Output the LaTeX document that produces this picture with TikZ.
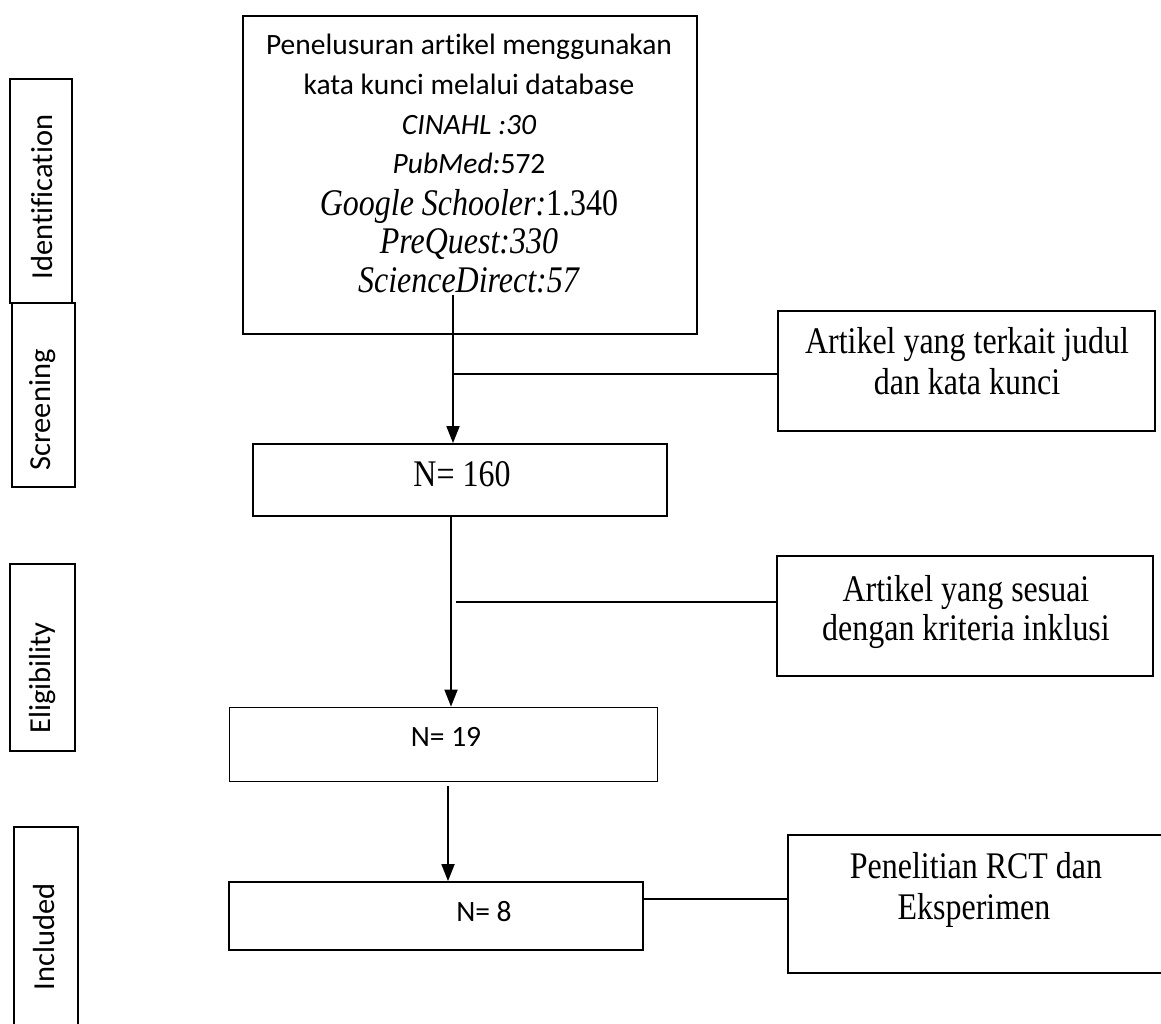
\documentclass[tikz,border=0pt]{standalone}
\usepackage{fontspec}
\setmainfont{Carlito}[Ligatures=NoCommon]
\newfontfamily\lblfont{Carlito}[Ligatures=NoCommon]
\newfontfamily\tnr{Liberation Serif}[FakeStretch=0.85]
\usetikzlibrary{arrows.meta,calc}
\begin{document}
\begin{tikzpicture}[x=1pt,y=-1pt,
  frame/.style={draw, line width=1.8pt, inner sep=0pt},
  sanstxt/.style={font=\fontsize{29.5}{35}\selectfont, inner sep=0pt, anchor=base},
  sertxt/.style={font=\tnr\fontsize{37.6}{42}\selectfont, inner sep=0pt, anchor=base},
  lbl/.style={font=\lblfont\fontsize{30.5}{36}\selectfont, rotate=90, inner sep=0pt},
  conn/.style={line width=1.8pt},
  arr/.style={conn, -{Triangle[width=13pt,length=17pt]}}]
\useasboundingbox (0,0) rectangle (1161,1023);

% stage labels
\node[frame, minimum width=62pt, minimum height=224pt] (idbox) at (41,191) {};
\node[lbl] (idtxt) at (42,197) {Identification};
\node[frame, minimum width=63pt, minimum height=184pt] (scbox) at (43.5,395) {};
\node[lbl] (sctxt) at (43,410) {Screening};
\node[frame, minimum width=65pt, minimum height=187pt] (elbox) at (42.5,657.5) {};
\node[lbl] (eltxt) at (43,678) {Eligibility};
\node[frame, minimum width=64pt, minimum height=210pt] (inbox) at (46,932) {};
\node[lbl] (intxt) at (44,937) {Included};

% main search box
\node[frame, minimum width=454pt, minimum height=318pt] (top) at (470,175) {};
\node[sanstxt] (t1) at (469,54) {Penelusuran artikel menggunakan};
\node[sanstxt] (t2) at (469,94) {kata kunci melalui database};
\node[sanstxt] (t3) at (469,134) {\itshape CINAHL :30};
\node[sanstxt] (t4) at (469,173) {\textit{PubMed:}572};
\node[sertxt] (t5) at (469,215) {\textit{Google Schooler:}1.340};
\node[sertxt] (t6) at (469,253) {\textit{PreQuest:330}};
\node[sertxt] (t7) at (469,292) {\textit{ScienceDirect:57}};

% side boxes
\node[frame, minimum width=377pt, minimum height=120pt] (sb1) at (966.5,371) {};
\node[sertxt] (sb1a) at (967,353) {Artikel yang terkait judul};
\node[sertxt] (sb1b) at (967,394) {dan kata kunci};

\node[frame, minimum width=376pt, minimum height=120pt] (sb2) at (965,616) {};
\node[sertxt] (sb2a) at (966,601) {Artikel yang sesuai};
\node[sertxt] (sb2b) at (966,640) {dengan kriteria inklusi};

\node[frame, minimum width=380pt, minimum height=138pt] (sb3) at (978,904) {};
\node[sertxt] (sb3a) at (976,878) {Penelitian RCT dan};
\node[sertxt] (sb3b) at (974,919) {Eksperimen};

% count boxes
\node[frame, minimum width=414pt, minimum height=72pt] (n160) at (460,480) {};
\node[sertxt] (n160t) at (462,486) {N= 160};
\node[frame, minimum width=428pt, minimum height=74pt] (n19) at (443.5,744.5) {};
\node[sanstxt] (n19t) at (446,746) {N= 19};
\node[frame, minimum width=414pt, minimum height=68pt] (n8) at (436,916) {};
\node[sanstxt] (n8t) at (484,921) {N= 8};

% connectors
\coordinate (s1) at (453,295);
\draw[arr] (s1) -- (s1 |- n160.north);
\coordinate (j1) at (453,374);
\draw[conn] (j1) -- (j1 -| sb1.west);

\coordinate (s2) at (451,0);
\draw[arr] (s2 |- n160.south) -- (s2 |- n19.north);
\coordinate (j2) at (456,602);
\draw[conn] (j2) -- (j2 -| sb2.west);

\coordinate (s3) at (448,786);
\draw[arr] (s3) -- (s3 |- n8.north);
\coordinate (j3) at (643,899);
\draw[conn] (j3) -- (j3 -| sb3.west);
\end{tikzpicture}
\end{document}
